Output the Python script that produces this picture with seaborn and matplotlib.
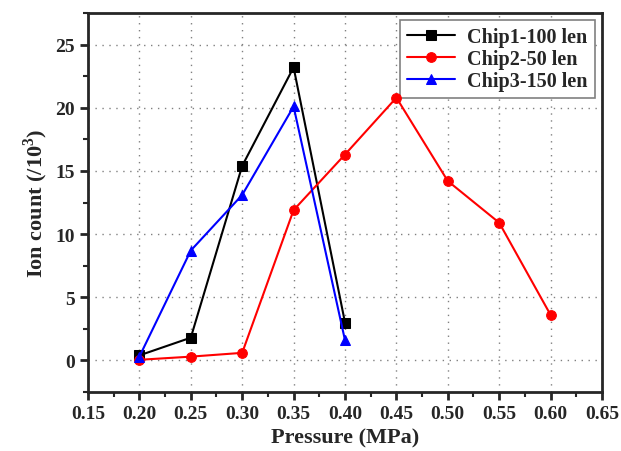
import matplotlib
matplotlib.use('Agg')
import matplotlib.pyplot as plt
import seaborn as sns
import pandas as pd
from matplotlib.ticker import MultipleLocator

# ── Data ─────────────────────────────────────────────────────────────────────
pressure_chip1 = [0.20, 0.25, 0.30, 0.35, 0.40]
count_chip1 = [0.4, 1.8, 15.4, 23.2, 3.0]

pressure_chip2 = [0.20, 0.25, 0.30, 0.35, 0.40, 0.45, 0.50, 0.55, 0.60]
count_chip2 = [0.05, 0.3, 0.6, 11.9, 16.3, 20.8, 14.2, 10.9, 3.6]

pressure_chip3 = [0.20, 0.25, 0.30, 0.35, 0.40]
count_chip3 = [0.3, 8.7, 13.1, 20.1, 1.6]

labels = ['Chip1-100 len', 'Chip2-50 len', 'Chip3-150 len']
colors = ['black', 'red', 'blue']
markers = ['s', 'o', '^']

df = pd.concat([
    pd.DataFrame({'Pressure': pressure_chip1, 'Count': count_chip1, 'Chip': labels[0]}),
    pd.DataFrame({'Pressure': pressure_chip2, 'Count': count_chip2, 'Chip': labels[1]}),
    pd.DataFrame({'Pressure': pressure_chip3, 'Count': count_chip3, 'Chip': labels[2]}),
])

sns.set_style('ticks')
plt.rcParams['font.family'] = ['Liberation Serif', 'DejaVu Serif']
plt.rcParams['font.weight'] = 'bold'
plt.rcParams['mathtext.default'] = 'bf'

fig = plt.figure(figsize=(6.21, 4.52), dpi=100)
ax = fig.add_axes([0.1417, 0.1305, 0.8277, 0.8385])

for lab, col, mk in zip(labels, colors, markers):
    sub = df[df['Chip'] == lab]
    sns.lineplot(data=sub, x='Pressure', y='Count', ax=ax, color=col, marker=mk,
                 markersize=7, markeredgecolor=col, linewidth=1.5, label=lab,
                 sort=False, zorder=6)

ax.set_xlim(0.15, 0.65)
ax.set_ylim(-2.5, 27.5)
ax.xaxis.set_major_locator(MultipleLocator(0.05))
ax.xaxis.set_minor_locator(MultipleLocator(0.025))
ax.yaxis.set_major_locator(MultipleLocator(5))
ax.yaxis.set_minor_locator(MultipleLocator(2.5))
ax.set_xticklabels([f'{v:.2f}' for v in ax.get_xticks()])

ax.grid(True, which='major', linestyle=(0, (1, 4)), color='gray', linewidth=1.0)
ax.tick_params(which='major', direction='out', length=6, width=2, labelsize=14)
ax.tick_params(which='minor', direction='out', length=3.5, width=1.5)
for s in ax.spines.values():
    s.set_linewidth(2)
    s.set_visible(True)

ax.set_xlabel('Pressure (MPa)', fontsize=16, fontweight='bold')
ax.set_ylabel('Ion count (/10$^{\\mathregular{3}}$)', fontsize=16, fontweight='bold')

leg = ax.legend(loc='upper right', fontsize=14.5, frameon=True, fancybox=False,
                edgecolor='gray', framealpha=1, handlelength=2.4, borderpad=0.35,
                labelspacing=0.1, handletextpad=0.6, borderaxespad=0,
                bbox_to_anchor=(0.986, 0.982))
leg.get_frame().set_linewidth(1.2)
leg.set_zorder(4)

fig.savefig('out.png', dpi=100)
